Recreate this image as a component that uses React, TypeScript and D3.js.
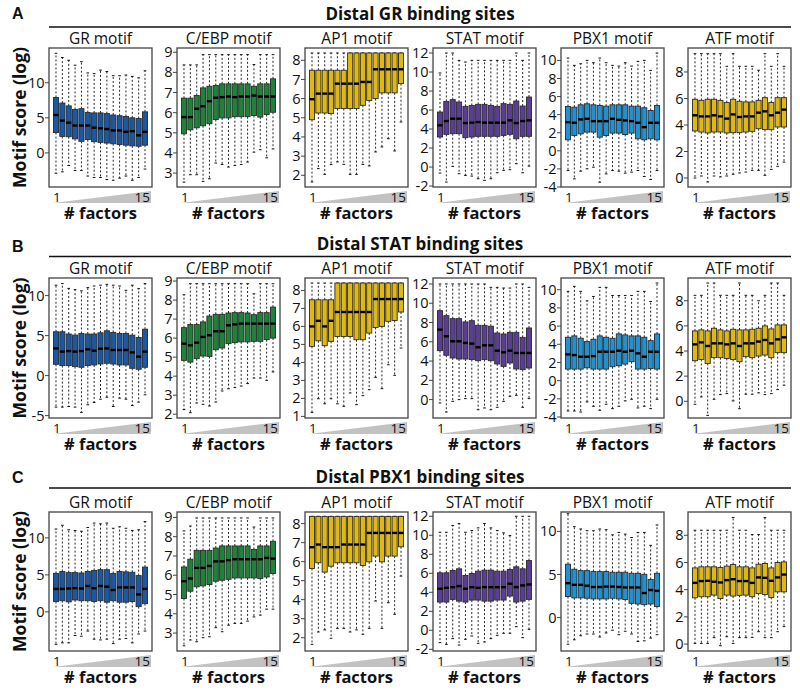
import React from "react";
import * as d3 from "d3";

type Box = [number, number, number, number, number]; // lower whisker, q1, median, q3, upper whisker

const motifs = ["GR motif", "C/EBP motif", "AP1 motif", "STAT motif", "PBX1 motif", "ATF motif"];
const motifColors = ["#1858a6", "#1b8438", "#e3b80c", "#5b3d97", "#1f92d3", "#e3b80c"];
const rowTitles = ["Distal GR binding sites", "Distal STAT binding sites", "Distal PBX1 binding sites"];
const rowLetters = ["A", "B", "C"];
const factorLabels = ["1", "15"];

// ---- Row A: Distal GR binding sites ----
const A_GR: Box[] = [
  [-2.9, 2.9, 5.4, 7.9, 14.2], [-2.7, 2.35, 4.6, 7.1, 13.6], [-1.8, 2.3, 4.3, 6.7, 13.2],
  [-2.5, 2.0, 3.9, 6.2, 12.5], [-2.5, 1.65, 3.9, 6.3, 13.0], [-3.3, 1.9, 3.9, 5.75, 11.4],
  [-3.5, 1.6, 3.6, 5.7, 11.3], [-3.5, 1.5, 3.5, 5.7, 11.8], [-3.8, 1.4, 3.4, 5.6, 11.6],
  [-3.9, 1.3, 3.2, 5.4, 11.0], [-3.6, 1.2, 3.2, 5.3, 11.0], [-3.3, 1.1, 3.0, 5.2, 11.1],
  [-3.9, 1.0, 3.1, 5.0, 10.9], [-3.5, 0.95, 2.5, 4.9, 10.7], [-2.3, 1.1, 3.0, 5.85, 11.7],
];
const A_CEBP: Box[] = [
  [2.55, 4.95, 5.78, 6.72, 8.37], [2.92, 5.15, 5.78, 6.72, 8.37], [2.92, 5.25, 6.19, 6.85, 8.37],
  [2.59, 5.35, 6.32, 7.23, 8.88], [2.72, 5.45, 6.57, 7.31, 8.88], [3.5, 5.66, 6.74, 7.35, 8.88],
  [3.43, 5.74, 6.77, 7.43, 8.88], [3.3, 5.74, 6.8, 7.43, 8.88], [3.38, 5.8, 6.77, 7.43, 8.88],
  [3.43, 5.8, 6.8, 7.43, 8.88], [3.55, 5.8, 6.8, 7.43, 8.88], [4.04, 5.86, 6.85, 7.31, 8.39],
  [4.16, 5.78, 6.8, 7.43, 8.88], [3.76, 5.91, 6.8, 7.43, 8.88], [4.2, 6.02, 6.8, 7.68, 8.88],
];
const A_AP1: Box[] = [
  [1.65, 4.9, 5.97, 7.48, 8.38], [2.35, 5.25, 6.26, 7.48, 8.38], [2.05, 5.25, 6.26, 7.48, 8.38],
  [2.56, 5.22, 6.26, 7.48, 8.38], [2.7, 5.48, 6.78, 7.48, 8.38], [2.57, 5.48, 6.78, 7.48, 8.38],
  [2.05, 5.48, 6.78, 8.38, 8.38], [2.05, 5.48, 6.78, 8.38, 8.38], [2.57, 5.65, 6.87, 8.38, 8.38],
  [2.49, 5.9, 6.87, 8.38, 8.38], [3.22, 6.0, 7.53, 8.38, 8.38], [3.48, 6.3, 7.53, 8.38, 8.38],
  [3.91, 6.3, 7.53, 8.38, 8.38], [3.27, 6.3, 7.53, 8.38, 8.38], [4.78, 6.78, 7.53, 8.38, 8.38],
];
const A_STAT: Box[] = [
  [-0.63, 3.16, 4.39, 5.79, 9.9], [-1.58, 3.44, 4.84, 6.91, 12.0], [0.07, 3.51, 5.09, 7.09, 12.0],
  [-0.7, 3.51, 5.09, 6.84, 11.23], [-0.88, 3.09, 4.63, 6.39, 11.05], [-0.95, 3.16, 4.67, 6.49, 11.23],
  [-1.23, 3.23, 4.74, 6.6, 11.23], [-1.4, 3.23, 4.67, 6.6, 11.23], [-1.23, 3.23, 4.67, 6.49, 11.23],
  [-0.6, 3.23, 4.67, 6.39, 11.23], [-0.35, 3.33, 4.67, 6.67, 11.23], [-0.28, 3.44, 4.91, 6.6, 11.23],
  [0.35, 2.98, 4.63, 6.95, 12.0], [-0.6, 3.23, 4.84, 6.42, 11.23], [0.1, 3.23, 4.91, 7.37, 12.0],
];
const A_PBX1: Box[] = [
  [-2.18, 1.22, 3.17, 4.9, 10.26], [-3.1, 1.7, 3.1, 4.83, 9.45], [-2.25, 1.88, 3.47, 5.09, 9.63],
  [-1.99, 2.07, 3.54, 5.2, 10.0], [-1.81, 2.07, 3.28, 5.09, 9.74], [-3.47, 1.51, 3.28, 5.02, 10.26],
  [-2.55, 1.7, 3.28, 4.94, 9.74], [-2.18, 1.96, 3.54, 5.09, 9.45], [-2.25, 1.96, 3.43, 5.09, 9.37],
  [-2.47, 1.81, 3.36, 5.09, 9.74], [-2.36, 1.96, 3.28, 4.94, 9.37], [-2.18, 1.33, 3.1, 4.94, 9.89],
  [-2.84, 1.22, 2.62, 4.76, 10.0], [-3.17, 1.33, 3.1, 4.46, 8.89], [-2.18, 1.22, 3.1, 5.02, 10.81],
];
const A_ATF: Box[] = [
  [0, 3.55, 4.73, 5.94, 9.38], [0.15, 3.47, 4.65, 5.86, 9.38], [-0.3, 3.4, 4.65, 5.94, 9.38],
  [0.15, 3.47, 4.73, 5.94, 9.38], [0.08, 3.47, 4.65, 5.86, 9.38], [0.15, 3.4, 4.48, 5.69, 8.43],
  [0.28, 3.42, 4.8, 5.94, 9.38], [0.38, 3.42, 4.6, 5.79, 8.43], [0.45, 3.47, 4.65, 5.74, 8.43],
  [0.58, 3.52, 4.65, 5.74, 8.43], [0.58, 3.72, 4.93, 5.86, 8.13], [0.2, 3.65, 5.03, 6.06, 9.38],
  [0.65, 3.65, 4.73, 5.69, 8.43], [0.88, 3.85, 4.93, 6.06, 9.38], [1.2, 3.85, 5.16, 6.06, 8.43],
];

// ---- Row B: Distal STAT binding sites ----
const B_GR: Box[] = [
  [-3.94, 1.41, 3.4, 5.48, 11.3], [-3.94, 1.25, 3.0, 5.48, 11.5], [-3.86, 1.25, 3.07, 5.2, 10.9],
  [-3.94, 1.12, 3.0, 5.06, 10.75], [-4.6, 1.04, 3.07, 5.27, 10.6], [-3.65, 1.25, 3.28, 5.2, 11.0],
  [-3.36, 1.33, 3.11, 5.2, 11.2], [-2.95, 1.45, 3.36, 5.35, 11.3], [-2.7, 1.54, 3.4, 5.6, 11.4],
  [-3.86, 1.45, 3.2, 5.4, 11.3], [-2.82, 1.33, 3.2, 5.27, 11.2], [-2.95, 1.33, 3.2, 5.27, 10.66],
  [-3.73, 0.91, 2.9, 5.06, 11.3], [-3.32, 0.79, 2.37, 4.77, 10.87], [-2.4, 1.04, 3.0, 5.8, 11.5],
];
const B_CEBP: Box[] = [
  [2.24, 4.83, 5.71, 6.55, 8.28], [2.08, 4.74, 5.62, 6.71, 8.86], [2.59, 4.92, 5.76, 6.71, 8.86],
  [2.52, 5.06, 6.06, 6.85, 8.86], [2.43, 5.04, 6.15, 7.16, 8.86], [2.64, 5.39, 6.36, 7.25, 8.86],
  [3.22, 5.48, 6.36, 7.25, 8.86], [3.34, 5.71, 6.67, 7.32, 8.86], [3.4, 5.76, 6.72, 7.34, 8.86],
  [3.48, 5.8, 6.76, 7.34, 8.86], [3.61, 5.8, 6.76, 7.32, 8.86], [3.9, 5.83, 6.76, 7.23, 8.33],
  [3.9, 5.83, 6.76, 7.34, 8.86], [3.78, 5.92, 6.76, 7.34, 8.86], [4.22, 6.0, 6.76, 7.63, 8.86],
];
const B_AP1: Box[] = [
  [1.22, 4.89, 6.0, 7.48, 8.41], [1.98, 5.2, 6.31, 7.48, 8.41], [1.7, 4.93, 6.0, 7.48, 8.41],
  [1.98, 5.17, 6.31, 7.48, 8.41], [1.7, 5.44, 6.8, 8.41, 8.41], [1.56, 5.44, 6.8, 8.41, 8.41],
  [2.3, 5.44, 6.8, 8.41, 8.41], [1.65, 5.26, 6.8, 8.41, 8.41], [2.15, 5.26, 6.8, 8.41, 8.41],
  [2.48, 5.63, 6.8, 8.41, 8.41], [3.17, 5.94, 7.52, 8.41, 8.41], [2.54, 6.0, 7.52, 8.41, 8.41],
  [3.87, 6.28, 7.52, 8.41, 8.41], [3.28, 6.33, 7.52, 8.41, 8.41], [4.8, 6.8, 7.52, 8.41, 8.41],
];
const B_STAT: Box[] = [
  [-0.35, 5.08, 7.26, 9.23, 12.0], [-1.29, 4.6, 6.57, 8.71, 12.0], [-0.18, 4.32, 6.05, 8.4, 12.0],
  [0, 4.21, 6.05, 8.4, 12.0], [0.1, 4.21, 5.88, 8.06, 12.0], [0.1, 4.15, 5.81, 8.19, 12.0],
  [-1.05, 4.04, 5.43, 7.71, 12.0], [-0.87, 4.15, 5.63, 7.71, 12.0], [-1.05, 4.04, 5.63, 7.61, 11.65],
  [-0.8, 3.7, 5.08, 6.91, 11.65], [-0.18, 3.45, 4.91, 6.81, 11.58], [0.34, 3.8, 5.08, 6.98, 11.58],
  [0.44, 3.18, 4.84, 6.98, 12.0], [-0.8, 3.11, 4.84, 6.46, 12.0], [0.1, 3.28, 4.84, 7.43, 11.65],
];
const B_PBX1: Box[] = [
  [-3.34, 1.27, 2.89, 4.77, 9.82], [-3.34, 1.27, 2.81, 4.92, 10.37], [-3.45, 1.27, 2.63, 4.66, 9.82],
  [-2.34, 1.41, 2.63, 4.29, 8.78], [-2.82, 1.27, 2.7, 4.55, 9.26], [-3.26, 1.27, 3.18, 4.92, 10.26],
  [-2.6, 1.27, 3.18, 4.77, 10.26], [-3.08, 1.53, 3.18, 4.66, 9.37], [-2.82, 1.64, 3.29, 5.14, 9.37],
  [-2.23, 1.82, 3.18, 5.03, 9.37], [-2.05, 2.08, 3.29, 4.92, 9.37], [-3.0, 1.27, 3.0, 4.92, 9.82],
  [-2.82, 1.27, 2.63, 4.77, 9.82], [-3.08, 1.34, 3.18, 4.4, 8.71], [-2.05, 1.27, 3.18, 5.14, 10.74],
];
const B_ATF: Box[] = [
  [-0.24, 3.23, 4.53, 5.6, 8.43], [0.35, 3.33, 4.69, 5.68, 8.43], [-1.12, 3.01, 4.4, 5.6, 9.41],
  [0.16, 3.47, 4.61, 5.81, 9.41], [0.53, 3.47, 4.61, 5.68, 8.43], [0.61, 3.41, 4.53, 5.6, 8.43],
  [0.03, 3.33, 4.61, 5.73, 8.43], [-0.59, 3.15, 4.4, 5.68, 9.41], [0.56, 3.55, 4.61, 5.68, 8.43],
  [0.56, 3.47, 4.61, 5.73, 8.43], [0.67, 3.6, 4.75, 5.81, 8.0], [0.53, 3.68, 4.88, 6.0, 8.43],
  [0.61, 3.47, 4.61, 5.76, 9.41], [0.93, 3.87, 4.93, 6.08, 9.41], [1.28, 3.87, 5.09, 6.08, 8.43],
];

// ---- Row C: Distal PBX1 binding sites ----
const C_GR: Box[] = [
  [-4.4, 1.38, 3.1, 5.2, 11.2], [-4.2, 1.5, 3.1, 5.45, 11.7], [-4.2, 1.35, 3.15, 5.3, 11.1],
  [-3.2, 1.6, 3.2, 5.3, 11.0], [-3.3, 1.5, 3.15, 5.25, 10.9], [-2.6, 1.5, 3.5, 5.45, 11.4],
  [-3.7, 1.4, 3.2, 5.6, 12.0], [-3.8, 1.5, 3.5, 5.7, 11.9], [-3.7, 1.3, 3.4, 5.7, 12.0],
  [-4.3, 1.5, 2.95, 5.2, 11.3], [-3.7, 1.3, 3.3, 5.45, 11.5], [-3.6, 1.3, 3.3, 5.4, 11.3],
  [-4.2, 1.4, 3.3, 5.35, 11.0], [-3.0, 0.7, 2.35, 4.9, 11.1], [-2.6, 1.1, 3.1, 6.05, 12.2],
];
const C_CEBP: Box[] = [
  [2.34, 4.79, 5.69, 6.43, 8.3], [2.64, 5.17, 5.83, 6.83, 8.55], [2.55, 5.4, 6.38, 7.29, 8.97],
  [2.76, 5.45, 6.38, 7.29, 8.97], [2.81, 5.52, 6.48, 7.29, 8.97], [3.28, 5.69, 6.72, 7.41, 8.97],
  [3.07, 5.74, 6.72, 7.52, 8.97], [3.41, 5.79, 6.78, 7.52, 8.97], [3.5, 5.86, 6.83, 7.52, 8.97],
  [3.5, 5.86, 6.83, 7.52, 8.97], [3.62, 5.86, 6.83, 7.52, 8.97], [3.84, 5.86, 6.83, 7.34, 8.5],
  [3.93, 5.83, 6.83, 7.52, 8.97], [4.24, 5.91, 6.9, 7.52, 8.97], [4.24, 6.09, 6.86, 7.76, 8.97],
];
const C_AP1: Box[] = [
  [1.65, 5.64, 6.76, 8.38, 8.38], [2.3, 5.94, 6.9, 8.38, 8.38], [2.41, 5.45, 6.76, 8.38, 8.38],
  [1.97, 5.76, 6.76, 8.38, 8.38], [2.49, 5.94, 6.76, 8.38, 8.38], [2.49, 5.94, 6.9, 8.38, 8.38],
  [2.3, 5.94, 6.9, 8.38, 8.38], [2.41, 5.94, 6.9, 8.38, 8.38], [2.18, 5.8, 6.9, 8.38, 8.38],
  [2.49, 5.99, 7.51, 8.38, 8.38], [3.93, 6.29, 7.51, 8.38, 8.38], [2.49, 5.99, 7.51, 8.38, 8.38],
  [3.84, 6.29, 7.51, 8.38, 8.38], [3.23, 6.29, 7.51, 8.38, 8.38], [5.24, 6.78, 7.51, 8.38, 8.38],
];
const C_STAT: Box[] = [
  [-1.3, 2.97, 4.37, 6.05, 10.32], [-1.48, 2.97, 4.47, 6.05, 10.32], [-0.88, 3.25, 4.54, 6.29, 11.02],
  [-1.55, 3.07, 4.65, 6.47, 11.23], [-0.95, 2.97, 4.37, 5.77, 10.32], [-0.6, 3.18, 4.54, 5.98, 10.5],
  [-1.37, 3.18, 4.47, 6.22, 10.78], [-1.23, 3.07, 4.54, 6.33, 11.23], [-0.88, 3.07, 4.54, 6.33, 10.78],
  [-0.53, 3.18, 4.54, 6.22, 10.5], [-0.32, 3.18, 4.54, 6.22, 10.25], [-0.32, 3.6, 4.9, 6.4, 9.97],
  [0.38, 2.97, 4.54, 6.68, 12.0], [-0.78, 3.07, 4.72, 6.47, 12.0], [0.1, 3.25, 4.82, 7.34, 12.0],
];
const C_PBX1: Box[] = [
  [-3.08, 2.45, 4.0, 6.2, 12.05], [-2.57, 2.29, 3.8, 5.61, 10.55], [-2.1, 2.29, 3.8, 5.45, 10.28],
  [-1.9, 2.25, 3.7, 5.45, 10.08], [-1.9, 2.17, 3.55, 5.34, 10.08], [-2.25, 2.17, 3.55, 5.34, 10.28],
  [-1.78, 2.17, 3.6, 5.34, 10.2], [-1.46, 2.25, 3.6, 5.26, 9.6], [-1.98, 2.17, 3.55, 5.26, 9.88],
  [-1.58, 2.1, 3.5, 5.26, 9.68], [-1.9, 1.66, 3.5, 5.14, 9.29], [-2.77, 1.58, 3.5, 5.14, 9.88],
  [-2.69, 1.5, 2.85, 5.02, 9.88], [-2.37, 1.58, 3.2, 4.43, 8.38], [-1.98, 1.3, 3.1, 5.14, 10.75],
];
const C_ATF: Box[] = [
  [0.05, 3.4, 4.5, 5.6, 8.37], [0.05, 3.48, 4.63, 5.68, 8.37], [0.05, 3.48, 4.65, 5.68, 8.37],
  [0.47, 3.6, 4.58, 5.68, 8.37], [-0.12, 3.35, 4.53, 5.63, 8.37], [0.54, 3.6, 4.7, 5.73, 8.37],
  [0.05, 3.53, 4.77, 5.85, 9.3], [0.47, 3.58, 4.63, 5.68, 8.37], [0.47, 3.6, 4.63, 5.68, 8.37],
  [0.49, 3.48, 4.5, 5.6, 8.05], [0.91, 3.72, 4.9, 5.87, 8.05], [0.47, 3.65, 4.87, 5.92, 9.3],
  [0.47, 3.43, 4.65, 5.6, 8.37], [0.91, 3.84, 4.9, 6.0, 8.37], [1.28, 3.84, 5.11, 6.04, 8.37],
];

// ---- axis domains and ticks (per row, per motif) ----
const domainsA: [number, number][] = [[-4.86, 14.95], [2.31, 9.21], [1.39, 8.64], [-2.1, 12.53], [-4.0, 11.37], [-0.68, 9.81]];
const domainsB: [number, number][] = [[-5.3, 12.2], [1.8, 9.16], [0.91, 8.69], [-1.91, 12.62], [-4.11, 11.29], [-1.33, 9.81]];
const domainsC: [number, number][] = [[-5.3, 13.5], [2.07, 9.28], [1.3, 8.61], [-2.18, 12.45], [-3.87, 12.25], [-0.51, 9.71]];

const ticksA: number[][] = [[0, 5, 10], [3, 4, 5, 6, 7, 8, 9], [2, 3, 4, 5, 6, 7, 8], [-2, 0, 2, 4, 6, 8, 10, 12], [-4, -2, 0, 2, 4, 6, 8, 10], [0, 2, 4, 6, 8]];
const ticksB: number[][] = [[-5, 0, 5, 10], [2, 3, 4, 5, 6, 7, 8, 9], [1, 2, 3, 4, 5, 6, 7, 8], [0, 2, 4, 6, 8, 10, 12], [-4, -2, 0, 2, 4, 6, 8, 10], [0, 2, 4, 6, 8]];
const ticksC: number[][] = [[0, 5, 10], [3, 4, 5, 6, 7, 8, 9], [2, 3, 4, 5, 6, 7, 8], [-2, 0, 2, 4, 6, 8, 10, 12], [0, 5, 10], [0, 2, 4, 6, 8]];

const rowsData: Box[][][] = [
  [A_GR, A_CEBP, A_AP1, A_STAT, A_PBX1, A_ATF],
  [B_GR, B_CEBP, B_AP1, B_STAT, B_PBX1, B_ATF],
  [C_GR, C_CEBP, C_AP1, C_STAT, C_PBX1, C_ATF],
];
const rowsDomains = [domainsA, domainsB, domainsC];
const rowsTicks = [ticksA, ticksB, ticksC];

// ---- layout ----
const W = 800;
const H = 691;
const FONT = "'Open Sans', 'Noto Sans', sans-serif";
const panelLefts = [49, 177, 305, 433, 561, 688];
const PW = 103;
const rowTops = [48, 278, 512];
const rowBottoms = [187, 418, 651];
const rowLineY = [27, 256.5, 488];
const rowTitleY = [20, 250, 483];
const letterY = [19, 252, 483];

function Panel(props: {
  data: Box[]; domain: [number, number]; ticks: number[]; color: string; title: string;
  left: number; top: number; bottom: number;
}) {
  const { data, domain, ticks, color, title, left, top, bottom } = props;
  const x = d3.scaleLinear().domain([-0.1, data.length + 1.1]).range([left, left + PW]);
  const y = d3.scaleLinear().domain(domain).range([bottom, top]);
  const unit = x(1) - x(0);
  const bw = unit * 0.8;
  const sw = unit * 0.42;
  const wedge = d3.line()([
    [left + 4, bottom + 16],
    [left + PW - 1, bottom + 4],
    [left + PW - 1, bottom + 16],
  ]) + "Z";
  return (
    <g>
      <text x={left + PW / 2} y={top - 4} textAnchor="middle" fontSize={15.5} fontFamily={FONT} fill="#111">
        {title}
      </text>
      {data.map((d, i) => {
        const cx = x(i + 1);
        const [lo, q1, med, q3, hi] = d;
        return (
          <g key={i}>
            <line x1={cx} x2={cx} y1={y(q3)} y2={y(hi)} stroke="#111" strokeWidth={0.9} strokeDasharray="2,2" />
            <line x1={cx} x2={cx} y1={y(q1)} y2={y(lo)} stroke="#111" strokeWidth={0.9} strokeDasharray="2,2" />
            <line x1={cx - sw / 2} x2={cx + sw / 2} y1={y(hi)} y2={y(hi)} stroke="#111" strokeWidth={1} />
            <line x1={cx - sw / 2} x2={cx + sw / 2} y1={y(lo)} y2={y(lo)} stroke="#111" strokeWidth={1} />
            <rect x={cx - bw / 2} y={y(q3)} width={bw} height={Math.max(0.5, y(q1) - y(q3))}
              fill={color} stroke="#2a2a2a" strokeWidth={0.9} />
            <line x1={cx - bw / 2} x2={cx + bw / 2} y1={y(med)} y2={y(med)} stroke="#000" strokeWidth={2.4} />
          </g>
        );
      })}
      <rect x={left} y={top} width={PW} height={bottom - top} fill="none" stroke="#444" strokeWidth={1.3} />
      {ticks.map((t) => (
        <g key={t}>
          <line x1={left - 4} x2={left} y1={y(t)} y2={y(t)} stroke="#444" strokeWidth={1} />
          <text x={left - 4.5} y={y(t)} dy="0.35em" textAnchor="end" fontSize={14.5} fontFamily={FONT} fill="#111">
            {String(t)}
          </text>
        </g>
      ))}
      <path d={wedge} fill="#c2c2c2" />
      <text x={left + 4} y={bottom + 15} fontSize={13.5} fontFamily={FONT} fill="#111">{factorLabels[0]}</text>
      <text x={left + PW - 2} y={bottom + 15} textAnchor="end" fontSize={13.5} fontFamily={FONT} fill="#111">{factorLabels[1]}</text>
      <text x={left + PW / 2} y={bottom + 32} textAnchor="middle" fontSize={16.5} fontWeight="bold" fontFamily={FONT} fill="#111">
        # factors
      </text>
    </g>
  );
}

export default function App() {
  return (
    <svg width={W} height={H} viewBox={`0 0 ${W} ${H}`}
      style={{ position: "absolute", left: 0, top: 0, background: "#fff" }}>
      <rect x={0} y={0} width={W} height={H} fill="#fff" />
      {rowsData.map((row, r) => (
        <g key={r}>
          <text x={12} y={letterY[r]} fontSize={16} fontWeight="bold" fontFamily="'Liberation Sans', Arial, sans-serif" fill="#111">
            {rowLetters[r]}
          </text>
          <text x={420} y={rowTitleY[r]} textAnchor="middle" fontSize={17} fontWeight="bold" fontFamily={FONT} fill="#111">
            {rowTitles[r]}
          </text>
          <line x1={49} x2={791} y1={rowLineY[r]} y2={rowLineY[r]} stroke="#111" strokeWidth={1.4} />
          <text transform={`translate(20,${(rowTops[r] + rowBottoms[r]) / 2}) rotate(-90)`} textAnchor="middle" dy="0.35em"
            fontSize={17.5} fontWeight="bold" fontFamily={FONT} fill="#111">
            Motif score (log)
          </text>
          {row.map((data, c) => (
            <Panel key={c} data={data} domain={rowsDomains[r][c]} ticks={rowsTicks[r][c]} color={motifColors[c]}
              title={motifs[c]} left={panelLefts[c]} top={rowTops[r]} bottom={rowBottoms[r]} />
          ))}
        </g>
      ))}
    </svg>
  );
}
